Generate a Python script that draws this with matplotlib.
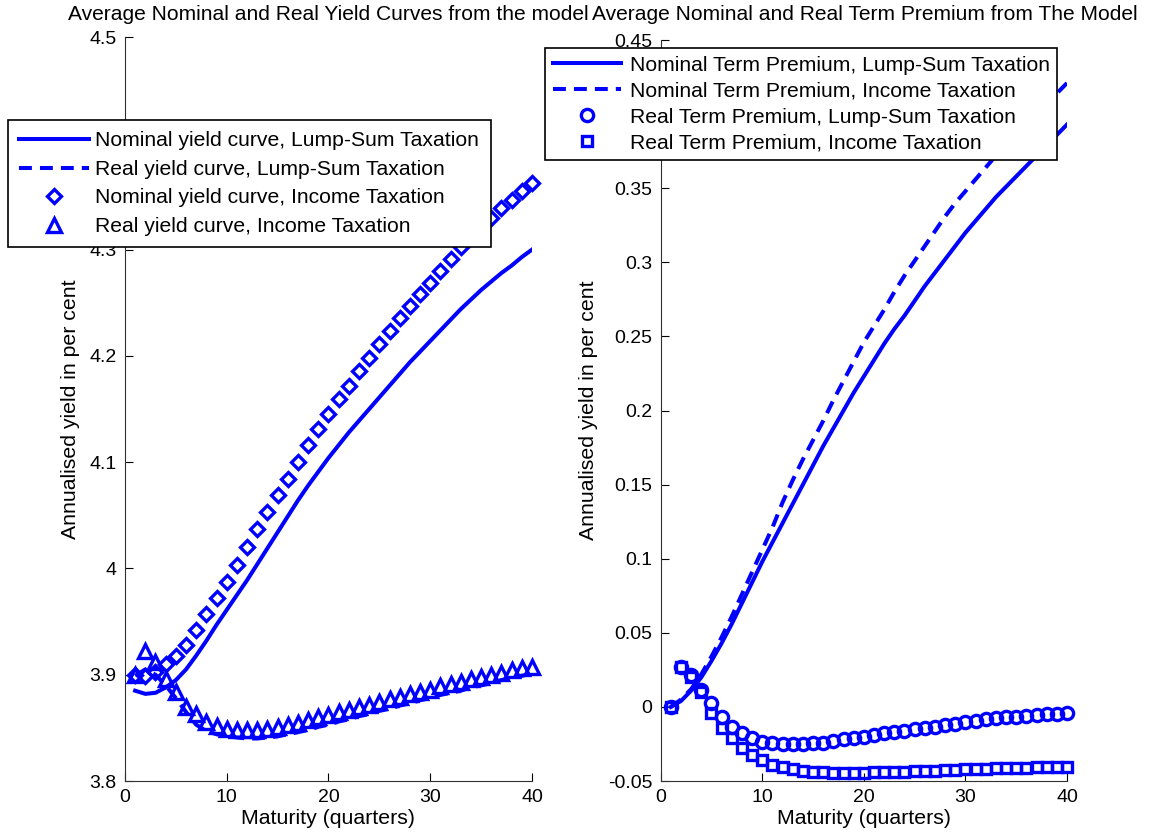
import matplotlib.pyplot as plt
from matplotlib.ticker import FuncFormatter

plt.rcParams['font.family'] = ['Liberation Sans', 'DejaVu Sans']

# maturities in quarters
maturity = list(range(1, 41))

# --- left panel: yield curves (annualised, per cent) ---
nominal_lump = [3.885, 3.882, 3.883, 3.888, 3.895, 3.905, 3.918, 3.932, 3.947, 3.961,
                3.975, 3.989, 4.004, 4.019, 4.034, 4.049, 4.064, 4.078, 4.091, 4.104,
                4.116, 4.128, 4.139, 4.150, 4.161, 4.172, 4.183, 4.194, 4.204, 4.214,
                4.224, 4.234, 4.244, 4.253, 4.262, 4.270, 4.278, 4.285, 4.293, 4.300]
real_lump = [3.899, 3.905, 3.900, 3.890, 3.878, 3.865, 3.853, 3.847, 3.844, 3.842,
             3.841, 3.840, 3.840, 3.841, 3.842, 3.844, 3.846, 3.848, 3.851, 3.853,
             3.856, 3.858, 3.861, 3.863, 3.866, 3.868, 3.871, 3.873, 3.876, 3.878,
             3.881, 3.883, 3.885, 3.888, 3.890, 3.892, 3.895, 3.897, 3.899, 3.901]
nominal_income = [3.900, 3.899, 3.903, 3.910, 3.918, 3.928, 3.942, 3.957, 3.972, 3.987,
                  4.003, 4.020, 4.037, 4.053, 4.069, 4.084, 4.100, 4.116, 4.131, 4.145,
                  4.159, 4.172, 4.186, 4.198, 4.211, 4.223, 4.236, 4.247, 4.258, 4.269,
                  4.280, 4.291, 4.302, 4.312, 4.321, 4.330, 4.339, 4.347, 4.355, 4.363]
real_income = [3.900, 3.922, 3.912, 3.896, 3.884, 3.870, 3.863, 3.856, 3.852, 3.849,
               3.848, 3.848, 3.848, 3.849, 3.851, 3.853, 3.855, 3.857, 3.860, 3.862,
               3.865, 3.867, 3.870, 3.872, 3.874, 3.877, 3.879, 3.882, 3.884, 3.886,
               3.889, 3.891, 3.893, 3.896, 3.898, 3.900, 3.902, 3.904, 3.906, 3.907]

# --- right panel: term premia ---
tp_nominal_lump = [0.000, 0.004, 0.011, 0.020, 0.031, 0.043, 0.056, 0.070, 0.084, 0.098,
                   0.111, 0.124, 0.137, 0.150, 0.163, 0.176, 0.188, 0.200, 0.212, 0.223,
                   0.234, 0.245, 0.255, 0.264, 0.274, 0.284, 0.293, 0.302, 0.311, 0.320,
                   0.328, 0.336, 0.344, 0.351, 0.358, 0.365, 0.372, 0.379, 0.386, 0.393]
tp_nominal_income = [0.000, 0.005, 0.012, 0.022, 0.034, 0.047, 0.061, 0.076, 0.091, 0.106,
                     0.121, 0.138, 0.153, 0.167, 0.180, 0.193, 0.207, 0.220, 0.233, 0.246,
                     0.257, 0.268, 0.280, 0.291, 0.301, 0.311, 0.321, 0.331, 0.340, 0.348,
                     0.356, 0.364, 0.372, 0.379, 0.386, 0.393, 0.400, 0.407, 0.414, 0.421]
tp_real_lump = [0.000, 0.0272, 0.0216, 0.0115, 0.0025, -0.0065, -0.0133, -0.0178, -0.0212, -0.0234,
                -0.0245, -0.0252, -0.0252, -0.0252, -0.0245, -0.0241, -0.0232, -0.0218, -0.0212, -0.0200,
                -0.0189, -0.0178, -0.0171, -0.0160, -0.0151, -0.0142, -0.0133, -0.0122, -0.0113, -0.0104,
                -0.0095, -0.0083, -0.0077, -0.0070, -0.0065, -0.0061, -0.0054, -0.0050, -0.0050, -0.0043]
tp_real_income = [0.000, 0.0270, 0.0205, 0.0104, -0.0043, -0.0144, -0.0212, -0.0279, -0.0324, -0.0358,
                  -0.0392, -0.0403, -0.0421, -0.0430, -0.0437, -0.0439, -0.0444, -0.0444, -0.0444, -0.0444,
                  -0.0439, -0.0439, -0.0437, -0.0437, -0.0432, -0.0432, -0.0430, -0.0426, -0.0426, -0.0421,
                  -0.0421, -0.0417, -0.0414, -0.0414, -0.0410, -0.0410, -0.0408, -0.0405, -0.0403, -0.0403]

left_yticks = [3.8, 3.9, 4.0, 4.1, 4.2, 4.3, 4.4, 4.5]
right_yticks = [-0.05, 0, 0.05, 0.1, 0.15, 0.2, 0.25, 0.3, 0.35, 0.4, 0.45]

blue = (0, 0, 1)
lw = 2.9
dash = (3.2, 2.0)
mk = dict(color=blue, linestyle='none', markerfacecolor='none', markeredgewidth=2.4, clip_on=False)

fig = plt.figure(figsize=(11.56, 8.4), dpi=100)
ax1 = fig.add_axes([0.1081, 0.0702, 0.3521, 0.8857])
ax2 = fig.add_axes([0.5715, 0.0702, 0.3515, 0.8821])


def style_axes(ax, ylim, yticks):
    ax.set_xlim(0, 40)
    ax.set_ylim(*ylim)
    ax.set_xticks([0, 10, 20, 30, 40])
    ax.set_yticks(yticks)
    ax.yaxis.set_major_formatter(FuncFormatter(lambda v, p: '%g' % round(v, 4)))
    ax.spines['top'].set_visible(False)
    ax.spines['right'].set_visible(False)
    for s in ('left', 'bottom'):
        ax.spines[s].set_color('#303030')
    ax.tick_params(direction='in', length=6, labelsize=14, pad=6)
    ax.set_xlabel('Maturity (quarters)', fontsize=15.3, labelpad=2)
    ax.set_ylabel('Annualised yield in per cent', fontsize=15.3, labelpad=7)


# left panel
h1 = ax1.plot(maturity, nominal_lump, '-', color=blue, lw=lw)[0]
h2 = ax1.plot(maturity, real_lump, '--', color=blue, lw=lw, dashes=dash)[0]
h3 = ax1.plot(maturity, nominal_income, marker='D', markersize=6.8, **mk)[0]
h4 = ax1.plot(maturity, real_income, marker='^', markersize=10, **mk)[0]
style_axes(ax1, (3.8, 4.5), left_yticks)

# right panel
g1 = ax2.plot(maturity, tp_nominal_lump, '-', color=blue, lw=lw)[0]
g2 = ax2.plot(maturity, tp_nominal_income, '--', color=blue, lw=lw, dashes=dash)[0]
g3 = ax2.plot(maturity, tp_real_lump, marker='o', markersize=8.8, **mk)[0]
g4 = ax2.plot(maturity, tp_real_income, marker='s', markersize=7.8, **mk)[0]
style_axes(ax2, (-0.05, 0.45), right_yticks)

# titles centred over each panel
fig.text(328.5 / 1156, 1 - 14 / 840, 'Average Nominal and Real Yield Curves from the model',
         ha='center', va='center', fontsize=15.1)
fig.text(864.5 / 1156, 1 - 14 / 840, 'Average Nominal and Real Term Premium from The Model',
         ha='center', va='center', fontsize=15.1)

leg_kw = dict(loc='upper left', fontsize=15.2, frameon=True, fancybox=False, framealpha=1,
              edgecolor='black', numpoints=1, borderaxespad=0)
leg1 = fig.legend([h1, h2, h3, h4],
                  ['Nominal yield curve, Lump-Sum Taxation', 'Real yield curve, Lump-Sum Taxation',
                   'Nominal yield curve, Income Taxation', 'Real yield curve, Income Taxation'],
                  bbox_to_anchor=(8 / 1156, 1 - 120 / 840), borderpad=0.54, handlelength=3.3,
                  handletextpad=0.3, labelspacing=0.45, **leg_kw)
leg2 = fig.legend([g1, g2, g3, g4],
                  ['Nominal Term Premium, Lump-Sum Taxation', 'Nominal Term Premium, Income Taxation',
                   'Real Term Premium, Lump-Sum Taxation', 'Real Term Premium, Income Taxation'],
                  bbox_to_anchor=(545 / 1156, 1 - 48 / 840), borderpad=0.36, handlelength=3.25,
                  handletextpad=0.4, labelspacing=0.33, **leg_kw)
for leg in (leg1, leg2):
    leg.get_frame().set_linewidth(1.2)

fig.savefig('out.png', dpi=100)
